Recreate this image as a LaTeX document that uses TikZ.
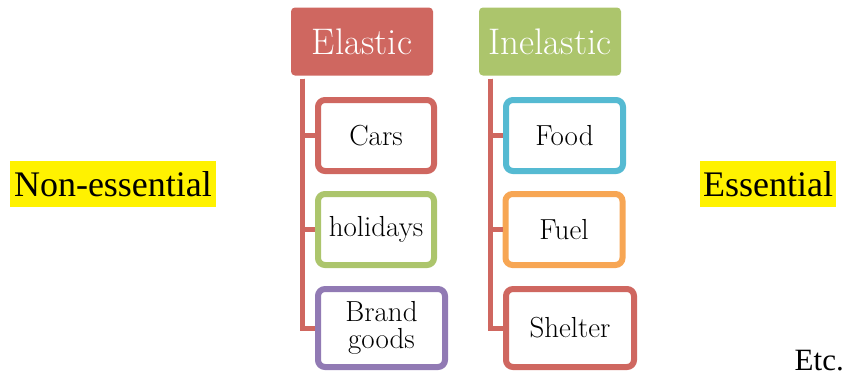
\documentclass[tikz,border=0pt]{standalone}
\usepackage{fontspec}
\newfontfamily\timesfont{Liberation Serif}
\definecolor{elasred}{RGB}{207,103,96}
\definecolor{inelgreen}{RGB}{172,197,108}
\definecolor{foodblue}{RGB}{85,186,210}
\definecolor{fuelorange}{RGB}{247,166,84}
\definecolor{brandpurple}{RGB}{145,122,180}

\begin{document}
\begin{tikzpicture}[x=1pt,y=-1pt,
    header/.style={fill=#1, text=white, rounded corners=4pt, minimum width=142pt, minimum height=68pt, font=\fontsize{37}{40}\selectfont},
    item/.style={draw=#1, line width=6pt, fill=white, rounded corners=7pt, align=center, inner sep=1pt, font=\fontsize{29}{27}\selectfont},
    bus/.style={draw=elasred, line width=5pt},
    highlight/.style={fill=yellow, inner sep=2pt, font=\timesfont\fontsize{36}{40}\selectfont}]
    \useasboundingbox (0,0) rectangle (847,376);
    % headers
    \node[header=elasred] (elastic) at (362,41.5) {Elastic};
    \node[header=inelgreen] (inelastic) at (550,41.5) {Inelastic};
    % elastic goods
    \node[item=elasred, minimum width=116pt, minimum height=71pt] (cars) at (376,135.5) {Cars};
    \node[item=inelgreen, minimum width=116pt, minimum height=71pt] (holidays) at (376,229.5) {holidays};
    \node[item=brandpurple, minimum width=127pt, minimum height=78pt] (brand) at (381.5,328) {Brand\\goods};
    % inelastic goods
    \node[item=foodblue, minimum width=117pt, minimum height=71pt] (food) at (564.5,135.5) {Food};
    \node[item=fuelorange, minimum width=117pt, minimum height=71pt] (fuel) at (564,229.5) {Fuel};
    \node[item=elasred, minimum width=128pt, minimum height=78pt] (shelter) at (570,328) {Shelter};
    % connectors
    \coordinate (elbus) at ([xshift=11.5pt,yshift=-3pt]elastic.south west);
    \coordinate (inbus) at ([xshift=12pt,yshift=-3pt]inelastic.south west);
    \draw[bus] (elbus) |- (brand.west);
    \draw[bus] (elbus) |- (cars.west);
    \draw[bus] (elbus) |- (holidays.west);
    \draw[bus] (inbus) |- (shelter.west);
    \draw[bus] (inbus) |- (food.west);
    \draw[bus] (inbus) |- (fuel.west);
    % side labels
    \node[highlight, minimum width=206pt, minimum height=46pt] (nonessential) at (113,184) {Non-essential};
    \node[highlight, minimum width=136pt, minimum height=46pt] (essential) at (768,184) {Essential};
    \node[font=\timesfont\fontsize{31}{34}\selectfont, anchor=base east, inner sep=0pt] (etc) at (844,370) {Etc.};
\end{tikzpicture}
\end{document}
